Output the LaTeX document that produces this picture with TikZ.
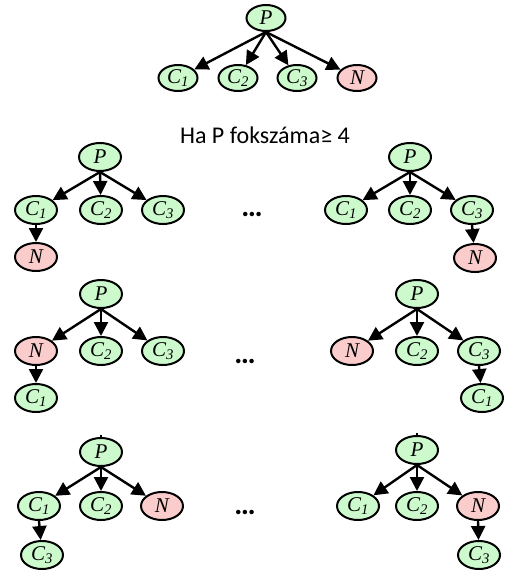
\documentclass[tikz,border=0pt]{standalone}
\usepackage{fontspec}
\setmainfont{Liberation Serif}
\newfontfamily\calfont{Carlito}
\usetikzlibrary{shapes.geometric,arrows.meta}
\definecolor{gfill}{RGB}{204,250,204}
\definecolor{rfill}{RGB}{250,204,204}
\tikzset{
  nd/.style={ellipse,draw=black,line width=2pt,minimum width=42pt,minimum height=28pt,inner sep=0pt,
    font=\fontsize{21}{22}\selectfont\itshape},
  sm/.style={minimum width=39pt,minimum height=26pt},
  gn/.style={nd,fill=gfill},
  rn/.style={nd,fill=rfill},
  arr/.style={line width=2.4pt,-{Triangle[length=14pt,width=14pt]}},
  lbl/.style={font=\calfont\fontsize{24}{26}\selectfont,inner sep=0pt},
  dots/.style={font=\calfont\bfseries\fontsize{30}{30}\selectfont,inner sep=0pt},
}
\newcommand{\Cs}[1]{C\textsubscript{\itshape #1}}
\begin{document}
\begin{tikzpicture}[x=1pt,y=-1pt]
\useasboundingbox[fill=white] (0,0) rectangle (506,570);
% top tree
\node[gn,sm] (aP) at (266,18) {P};
\node[gn,sm] (aC1) at (178,78) {\Cs{1}};
\node[gn,sm] (aC2) at (238,78) {\Cs{2}};
\node[gn,sm] (aC3) at (297,78) {\Cs{3}};
\node[rn,sm] (aN) at (357,78) {N};
\foreach \c in {aC1,aC2,aC3,aN} \draw[arr] (aP.south) -- (\c);
\node[lbl,anchor=base] (txt) at (265,143) {Ha P fokszáma≥ 4};
% row 2 left
\node[gn] (bP) at (100,157) {P};
\node[gn] (bC1) at (36,210) {\Cs{1}};
\node[gn] (bC2) at (101,210) {\Cs{2}};
\node[gn] (bC3) at (163,210) {\Cs{3}};
\node[rn] (bN) at (36,257) {N};
\foreach \c in {bC1,bC2,bC3} \draw[arr] (bP.south) -- (\c);
\draw[arr] (bC1.south) -- (bN);
% row 2 right
\node[gn] (cP) at (410,157) {P};
\node[gn] (cC1) at (346,210) {\Cs{1}};
\node[gn] (cC2) at (410,210) {\Cs{2}};
\node[gn] (cC3) at (472,210) {\Cs{3}};
\node[rn] (cN) at (475,258) {N};
\foreach \c in {cC1,cC2,cC3} \draw[arr] (cP.south) -- (\c);
\draw[arr] (cC3.south) -- (cN);
\node[dots] (d1) at (252,214) {…};
% row 3 left
\node[gn] (dP) at (101,294) {P};
\node[rn] (dN) at (36,351) {N};
\node[gn] (dC2) at (101,351) {\Cs{2}};
\node[gn] (dC3) at (163,351) {\Cs{3}};
\node[gn] (dC1) at (36,398) {\Cs{1}};
\foreach \c in {dN,dC2,dC3} \draw[arr] (dP.south) -- (\c);
\draw[arr] (dN.south) -- (dC1);
% row 3 right
\node[gn] (eP) at (417,294) {P};
\node[rn] (eN) at (352,351) {N};
\node[gn] (eC2) at (417,351) {\Cs{2}};
\node[gn] (eC3) at (479,351) {\Cs{3}};
\node[gn] (eC1) at (482,398) {\Cs{1}};
\foreach \c in {eN,eC2,eC3} \draw[arr] (eP.south) -- (\c);
\draw[arr] (eC3.south) -- (eC1);
\node[dots] (d2) at (245,361) {…};
% row 4 left
\node[gn] (fP) at (101,452) {P};
\node[gn] (fC1) at (39,506) {\Cs{1}};
\node[gn] (fC2) at (101,506) {\Cs{2}};
\node[rn] (fN) at (162,506) {N};
\node[gn] (fC3) at (42,555) {\Cs{3}};
\foreach \c in {fC1,fC2,fN} \draw[arr] (fP.south) -- (\c);
\draw[arr] (fC1.south) -- (fC3);
\draw[line width=1.5pt] (fP.north) -- ++(0,-2) coordinate (ft);
% row 4 right
\node[gn] (gP) at (417,450) {P};
\node[gn] (gC1) at (358,506) {\Cs{1}};
\node[gn] (gC2) at (417,506) {\Cs{2}};
\node[rn] (gN) at (478,506) {N};
\node[gn] (gC3) at (479,555) {\Cs{3}};
\foreach \c in {gC1,gC2,gN} \draw[arr] (gP.south) -- (\c);
\draw[arr] (gN.south) -- (gC3);
\draw[line width=1.5pt] (gP.north) -- ++(0,-2) coordinate (gt);
\node[dots] (d3) at (245,512) {…};
\end{tikzpicture}
\end{document}
